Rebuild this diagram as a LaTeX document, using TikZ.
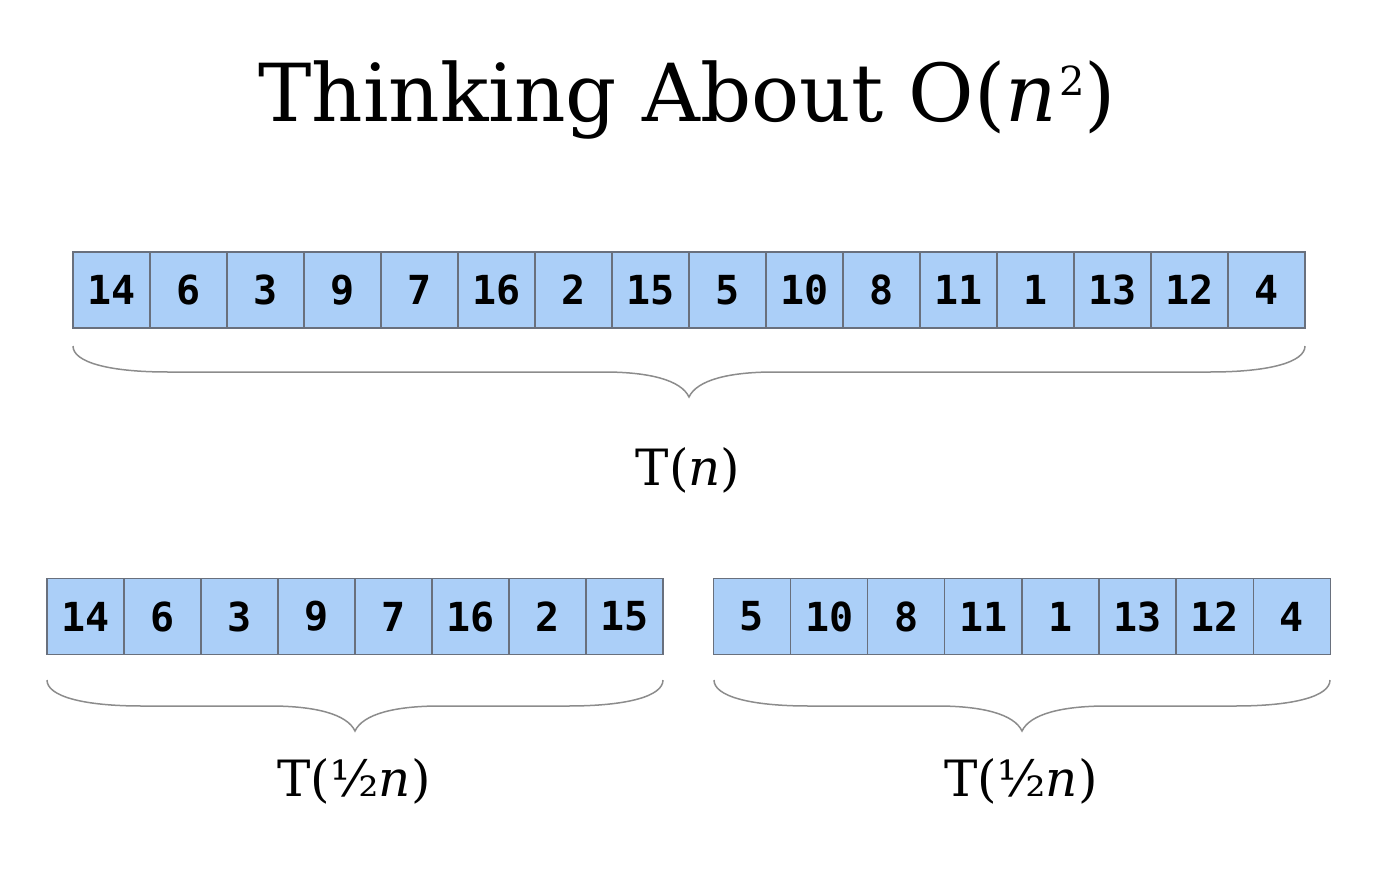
\documentclass[tikz,border=0pt]{standalone}
\usepackage{fontspec}
\setmainfont{DejaVu Serif}
\newfontfamily\cellfont{DejaVu Sans Mono}
\newfontfamily\supfont{DejaVu Serif}
\definecolor{cellfill}{RGB}{171,207,248}
\definecolor{cellborder}{RGB}{105,112,125}
\definecolor{bracecol}{RGB}{140,140,140}
\tikzset{
  cell/.style={draw=cellborder, fill=cellfill, line width=1.2pt, minimum width=77pt, minimum height=76pt, inner sep=0pt, font=\cellfont\bfseries\fontsize{40}{40}\selectfont},
  bracepath/.style={draw=bracecol, line width=1.5pt},
  lbl/.style={anchor=base, font=\fontsize{50}{50}\selectfont}
}
\newcommand\mybrace[4]{% x1, x2, ytop, depth scale
  \pgfmathsetmacro\xm{(#1+#2)/2}
  \draw[bracepath] (#1,#3) .. controls (#1,#3+16) and (#1+35,#3+26) .. (#1+95,#3+26)
    -- (\xm-85,#3+26) .. controls (\xm-40,#3+26) and (\xm-8,#3+34) .. (\xm,#3+51)
    .. controls (\xm+8,#3+34) and (\xm+40,#3+26) .. (\xm+85,#3+26)
    -- (#2-95,#3+26) .. controls (#2-35,#3+26) and (#2,#3+16) .. (#2,#3);
}
\begin{document}
\begin{tikzpicture}[x=1pt,y=-1pt]
\useasboundingbox (0,0) rectangle (1378,872);
\node[anchor=base, font=\fontsize{80}{80}\selectfont] (title) at (687,122) {Thinking About O(\textit{n}\kern2pt{\supfont\fontsize{40}{40}\selectfont\raisebox{26pt}{2}})};
\foreach \v [count=\i from 0] in {14,6,3,9,7,16,2,15,5,10,8,11,1,13,12,4}
  \node[cell] (t\i) at ({111.5+77*\i},290) {\v};
\foreach \v [count=\i from 0] in {14,6,3,9,7,16,2,15}
  \node[cell] (l\i) at ({85.5+77*\i},616.5) {\v};
\foreach \v [count=\i from 0] in {5,10,8,11,1,13,12,4}
  \node[cell] (r\i) at ({752+77.1*\i},616.5) {\v};
\mybrace{73}{1305}{346}{1}
\mybrace{47}{663}{680}{1}
\mybrace{714}{1330}{680}{1}
\node[lbl] (tn) at (688,485) {T(\textit{n})};
\node[lbl] (tl) at (354,796) {T(½\textit{n})};
\node[lbl] (tr) at (1021,796) {T(½\textit{n})};
\end{tikzpicture}
\end{document}
